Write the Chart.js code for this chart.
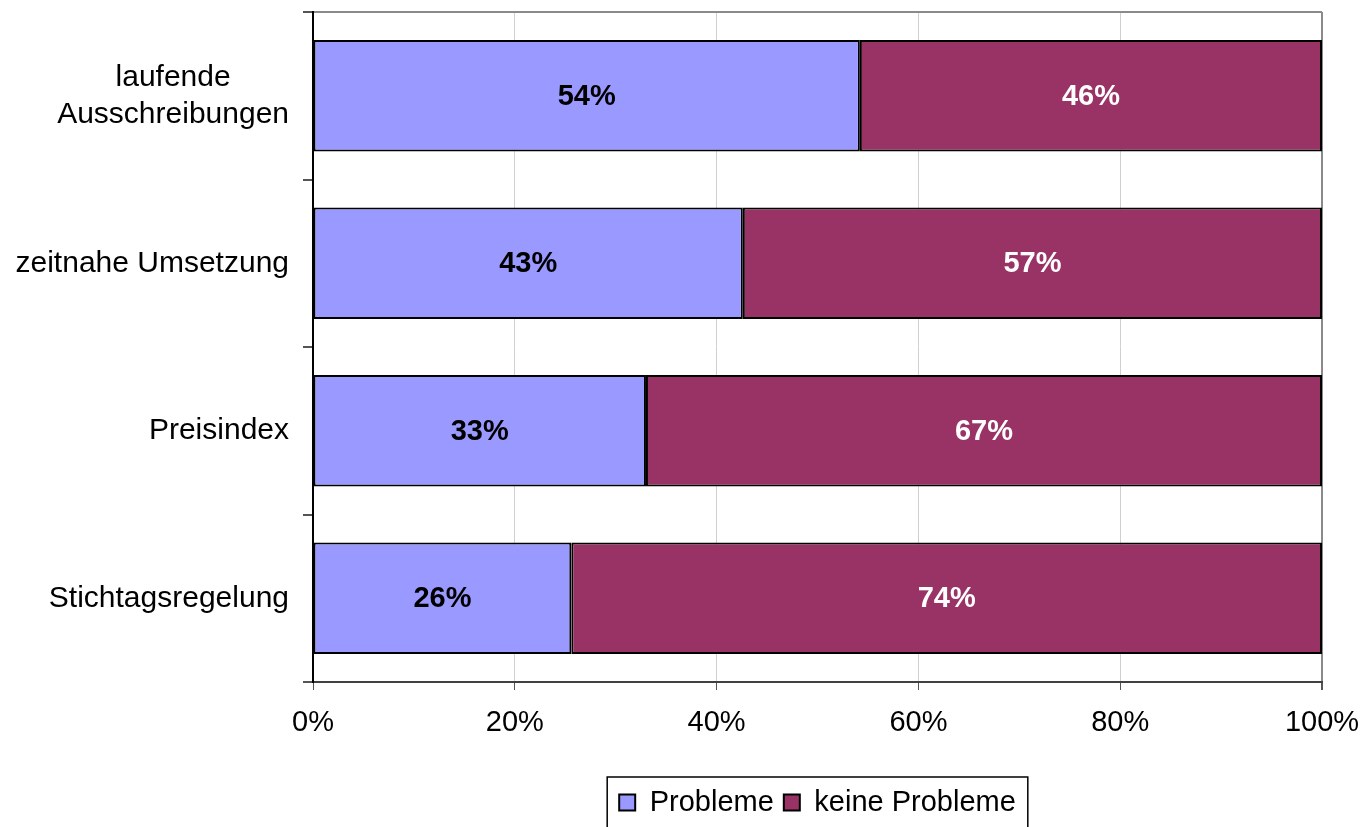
<!DOCTYPE html>
<html>
<head>
<meta charset="utf-8">
<script src="https://cdn.jsdelivr.net/npm/chart.js@4/dist/chart.umd.min.js"></script>
<style>
  html, body { margin: 0; padding: 0; background: #fff; }
  #wrap { width: 1365px; height: 827px; position: relative; }
</style>
</head>
<body>
<div id="wrap"><canvas id="chart"></canvas></div>
<script>
var categories = [['laufende', 'Ausschreibungen'], ['zeitnahe Umsetzung'], ['Preisindex'], ['Stichtagsregelung']];
var probleme = [54.2, 42.6, 33.0, 25.6];
var keineProbleme = [45.8, 57.4, 67.0, 74.4];
var xTicks = [0, 20, 40, 60, 80, 100];

var lilac = '#9999ff';
var plum = '#993366';
var fontFamily = "'Liberation Sans', Arial, sans-serif";

// category labels: right aligned block, lines centred within the block (like Excel)
var yLabels = {
  id: 'yLabels',
  afterDraw: function(chart) {
    var ctx = chart.ctx;
    var y = chart.scales.y;
    ctx.save();
    ctx.font = '30px ' + fontFamily;
    ctx.fillStyle = '#000';
    ctx.textAlign = 'center';
    ctx.textBaseline = 'middle';
    categories.forEach(function(lines, i) {
      var w = 0;
      lines.forEach(function(l) { w = Math.max(w, ctx.measureText(l).width); });
      var cx = 289 - w / 2;
      var cy = y.getPixelForValue(i);
      var lh = 37;
      lines.forEach(function(l, j) {
        ctx.fillText(l, cx, cy + (j - (lines.length - 1) / 2) * lh);
      });
    });
    ctx.restore();
  }
};

var barValues = {
  id: 'barValues',
  afterDatasetsDraw: function(chart) {
    var ctx = chart.ctx;
    ctx.save();
    ctx.font = 'bold 29px ' + fontFamily;
    ctx.textAlign = 'center';
    ctx.textBaseline = 'middle';
    chart.data.datasets.forEach(function(ds, di) {
      ctx.fillStyle = di === 0 ? '#000' : '#fff';
      chart.getDatasetMeta(di).data.forEach(function(bar, i) {
        var p = bar.getProps(['x', 'y', 'base'], true);
        ctx.fillText(Math.round(ds.data[i]) + '%', (p.x + p.base) / 2, p.y + 1);
      });
    });
    ctx.restore();
  }
};

var legendFrame = {
  id: 'legendFrame',
  afterDraw: function(chart) {
    var lg = chart.legend;
    if (!lg || !lg.legendHitBoxes.length) return;
    var boxes = lg.legendHitBoxes;
    var l = boxes[0].left, r = boxes[0].left + boxes[0].width;
    boxes.forEach(function(b) { l = Math.min(l, b.left); r = Math.max(r, b.left + b.width); });
    var ctx = chart.ctx;
    ctx.save();
    ctx.strokeStyle = '#000';
    ctx.lineWidth = 1.5;
    ctx.strokeRect(l - 12, lg.top - 1, r - l + 24, chart.height - lg.top + 5);
    ctx.restore();
  }
};

new Chart(document.getElementById('chart').getContext('2d'), {
  type: 'bar',
  data: {
    labels: categories.map(function(c) { return c.join(' '); }),
    datasets: [
      { label: 'Probleme', data: probleme, backgroundColor: lilac, borderColor: '#000', borderWidth: 2, borderSkipped: false,
        barPercentage: 0.667, categoryPercentage: 1 },
      { label: 'keine Probleme', data: keineProbleme, backgroundColor: plum, borderColor: '#000', borderWidth: 2, borderSkipped: false,
        barPercentage: 0.667, categoryPercentage: 1 }
    ]
  },
  options: {
    indexAxis: 'y',
    responsive: true, maintainAspectRatio: false, animation: false,
    layout: { padding: { top: 12, right: 43, left: 0, bottom: 0 } },
    plugins: {
      tooltip: { enabled: false },
      legend: {
        position: 'bottom', fullSize: false,
        labels: { font: { family: fontFamily, size: 29 }, color: '#000', boxWidth: 16, boxHeight: 16, padding: 10 }
      }
    },
    scales: {
      x: {
        stacked: true, min: 0, max: 100,
        afterBuildTicks: function(s) { s.ticks = xTicks.map(function(v) { return { value: v }; }); },
        afterFit: function(s) { s.height = 96; s.paddingLeft = 0; s.paddingRight = 0; },
        ticks: { font: { family: fontFamily, size: 29 }, color: '#000', padding: 16, maxRotation: 0,
          callback: function(v) { return v + '%'; } },
        grid: {
          tickLength: 8, tickColor: '#555',
          color: function(c) { return c.tick && c.tick.value === 100 ? '#8a8a8a' : c.tick && c.tick.value === 0 ? 'rgba(0,0,0,0)' : '#d0d0d0'; },
          lineWidth: function(c) { return c.tick && c.tick.value === 100 ? 2 : 1; }
        },
        border: { color: '#404040', width: 2 }
      },
      y: {
        stacked: true,
        afterFit: function(s) { s.width = 313; },
        ticks: { display: false },
        grid: {
          offset: true, tickLength: 10, tickColor: '#555',
          color: function(c) { return c.index === 0 ? '#8a8a8a' : 'rgba(0,0,0,0)'; },
          lineWidth: 2
        },
        border: { color: '#000', width: 2 }
      }
    }
  },
  plugins: [yLabels, barValues, legendFrame]
});
</script>
</body>
</html>
